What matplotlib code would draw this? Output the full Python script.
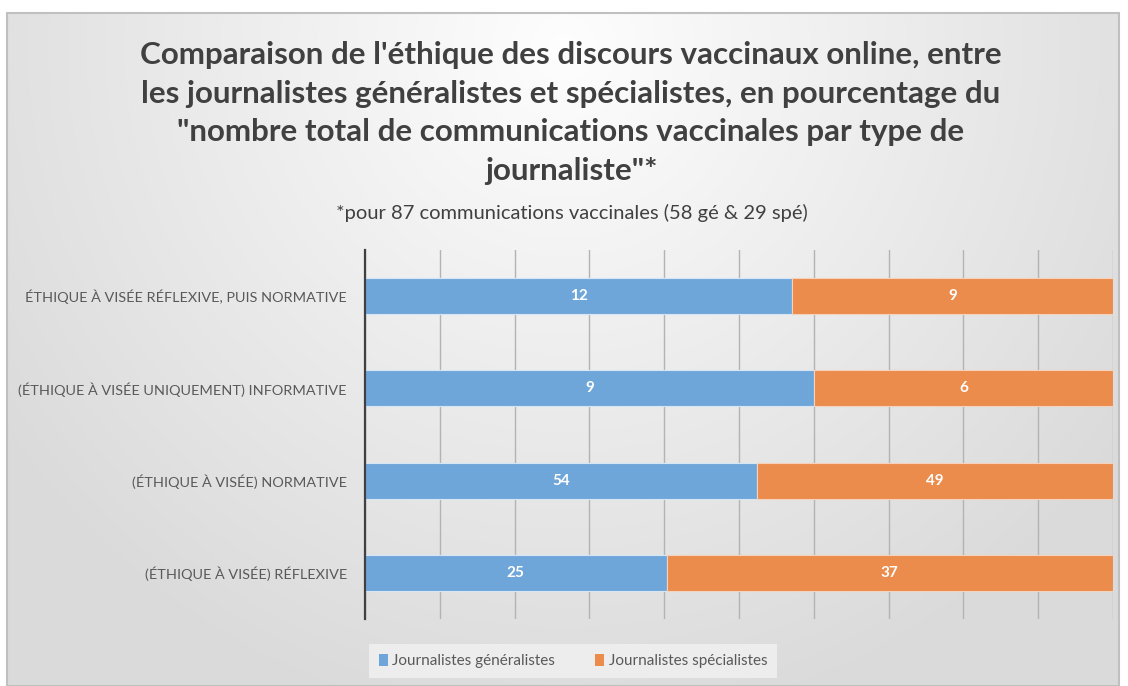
import numpy as np
import matplotlib
matplotlib.use("Agg")
import matplotlib.pyplot as plt
from matplotlib.patches import Rectangle, Patch

categories = [
    "ÉTHIQUE À VISÉE RÉFLEXIVE, PUIS NORMATIVE",
    "(ÉTHIQUE À VISÉE UNIQUEMENT) INFORMATIVE",
    "(ÉTHIQUE À VISÉE) NORMATIVE",
    "(ÉTHIQUE À VISÉE) RÉFLEXIVE",
]
generalistes = [12, 9, 54, 25]
specialistes = [9, 6, 49, 37]
series_names = ["Journalistes généralistes", "Journalistes spécialistes"]
title = ("Comparaison de l'éthique des discours vaccinaux online, entre\n"
         "les journalistes généralistes et spécialistes, en pourcentage du\n"
         "\"nombre total de communications vaccinales par type de\n"
         "journaliste\"*")
subtitle = "*pour 87 communications vaccinales (58 gé & 29 spé)"

plt.rcParams['font.family'] = ['Lato', 'DejaVu Sans']

W, H = 1128, 686
fig = plt.figure(figsize=(W / 100, H / 100), dpi=100)
fig.patch.set_facecolor('white')

# background frame with radial gradient
fx0, fx1, fy0 = 7, 1119, 13
bg = fig.add_axes([fx0 / W, 0, (fx1 - fx0) / W, (H - fy0) / H], zorder=-10)
ny, nx = 300, 500
yy, xx = np.mgrid[0:ny, 0:nx]
cx, cy = nx * 0.5, ny * 0.05
d = np.sqrt(((xx - cx) / nx) ** 2 + ((yy - cy) / ny * 0.6) ** 2)
d = np.clip(d / 0.62, 0, 1)
v = 0.995 - 0.14 * d
img = np.dstack([v, v, v])
bg.imshow(img, aspect='auto', extent=[0, 1, 0, 1], origin='upper')
bg.set_xlim(0, 1); bg.set_ylim(0, 1)
bg.axis('off')
bg.add_patch(Rectangle((0, 0), 1, 1, transform=bg.transAxes, fill=False,
                       edgecolor='#c0c0c0', linewidth=1.5, clip_on=False))

# main axes
ax_l, ax_r, ax_t, ax_b = 365, 1113, 250, 619
ax = fig.add_axes([ax_l / W, (H - ax_b) / H, (ax_r - ax_l) / W, (ax_b - ax_t) / H])
ax.set_facecolor('none')

gen = np.array(generalistes, dtype=float)
spe = np.array(specialistes, dtype=float)
tot = gen + spe
pg = gen / tot
ps = spe / tot
y = np.arange(len(categories))

blue = '#6fa6d9'
orange = '#eb8b4c'
bh = 0.39
ax.barh(y, pg, height=bh, color=blue, edgecolor='#d6e6f5', linewidth=0.8, zorder=3)
ax.barh(y, ps, left=pg, height=bh, color=orange, edgecolor='#f5d2bb', linewidth=0.8, zorder=3)

for i in range(len(categories)):
    ax.text(pg[i] / 2, y[i], f"{int(gen[i])}", ha='center', va='center',
            color='white', fontsize=11, fontweight='bold', zorder=4)
    ax.text(pg[i] + ps[i] / 2, y[i], f"{int(spe[i])}", ha='center', va='center',
            color='white', fontsize=11, fontweight='bold', zorder=4)

ax.set_xlim(0, 1)
ax.set_ylim(len(categories) - 0.5, -0.5)
ax.set_xticks(np.linspace(0, 1, 11))
ax.set_xticklabels([])
ax.tick_params(axis='x', length=0)
ax.grid(axis='x', color='#b3b3b3', linewidth=1, zorder=0)
ax.set_yticks(y)
ax.set_yticklabels(categories, fontsize=10.4, color='#595959')
ax.tick_params(axis='y', length=0, pad=13)
for s in ['top', 'right', 'bottom']:
    ax.spines[s].set_visible(False)
ax.spines['left'].set_color('#404040')
ax.spines['left'].set_linewidth(1.6)
ax.spines['left'].set_zorder(5)

fig.text(571 / W, 1 - 113 / H, title, ha='center', va='center', fontsize=22.6,
         fontweight='bold', color='#404040', linespacing=1.45)
fig.text(572 / W, 1 - 213 / H, subtitle, ha='center', va='center', fontsize=14.5,
         color='#404040')

handles = [Patch(facecolor=blue, edgecolor='none'), Patch(facecolor=orange, edgecolor='none')]
leg = fig.legend(handles, series_names, loc='center', bbox_to_anchor=(573 / W, 1 - 661 / H),
                 ncol=2, frameon=True, fontsize=11, handlelength=0.6, handleheight=0.8,
                 handletextpad=0.3, columnspacing=2.6, borderpad=0.65, borderaxespad=0,
                 fancybox=False)
leg.get_frame().set_facecolor('#ededed')
leg.get_frame().set_edgecolor('none')
leg.get_frame().set_alpha(1)
leg._legend_box.sep = 0
for t in leg.get_texts():
    t.set_color('#595959')

fig.savefig('out.png', dpi=100)
